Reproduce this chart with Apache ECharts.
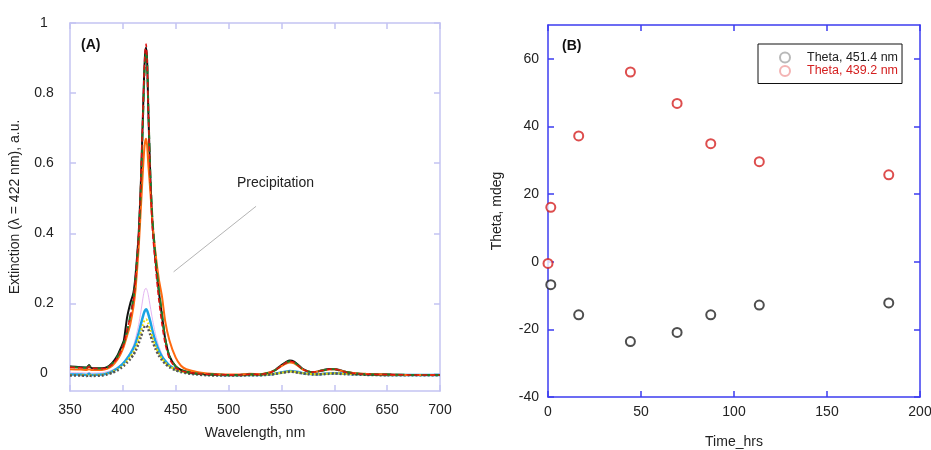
<!DOCTYPE html>
<html>
<head>
<meta charset="utf-8">
<script src="https://cdn.jsdelivr.net/npm/echarts@6/dist/echarts.min.js"></script>
<style>html,body{margin:0;padding:0;background:#fff;}#chart{width:931px;height:450px;}</style>
</head>
<body>
<div id="chart"></div>
<script>
// ---------- Panel A: spectra ----------
const wavelengths = [350,360,366,368,370,380,385,390,395,398,401,404,407,410,412,415,417,419,420,421,422,423,424,426,428,431,434,437,440,444,450,455,460,470,480,490,500,510,520,530,540,545,550,555,558,562,566,570,575,580,585,590,595,600,605,610,620,630,650,670,700];
const specBlack = [.020,.018,.017,.024,.016,.015,.018,.030,.052,.072, .095,.160,.200,.230,.280,.400,.540,.740,.840,.910, .930,.890,.760,.560,.430,.320,.235,.165,.100,.050, .020,.010,.005,.000,-.002,-.003,-.004,-.004,-.002,-.003, .004,.012,.024,.034,.037,.034,.024,.013,.006,.004, .006,.010,.013,.013,.010,.005,.000,-.002,-.003,-.004, -.004];
const specRed = [.018,.016,.015,.020,.015,.014,.016,.026,.045,.062, .085,.125,.160,.210,.270,.400,.550,.750,.850,.920, .940,.890,.760,.550,.410,.300,.210,.140,.085,.042, .016,.008,.004,.000,-.002,-.003,-.004,-.004,-.002,-.003, .003,.011,.022,.032,.035,.032,.022,.012,.006,.004, .006,.009,.012,.012,.009,.004,.000,-.002,-.003,-.004, -.004];
const specGreen = [.019,.017,.016,.022,.015,.014,.017,.028,.048,.066, .088,.120,.165,.215,.270,.390,.530,.720,.820,.890, .920,.890,.770,.570,.440,.330,.240,.170,.100,.048, .020,.010,.005,.000,-.002,-.003,-.004,-.004,-.002,-.003, .004,.011,.023,.032,.035,.032,.023,.012,.006,.004, .006,.009,.012,.012,.009,.005,.000,-.002,-.003,-.004, -.004];
const specOrange = [.012,.011,.010,.012,.010,.010,.013,.022,.040,.056, .078,.108,.140,.190,.240,.360,.470,.580,.630,.660, .670,.650,.600,.520,.430,.340,.270,.220,.150,.095, .045,.022,.012,.004,.000,-.002,-.003,-.003,-.001,-.002, .004,.011,.021,.029,.031,.029,.021,.012,.006,.004, .006,.009,.011,.012,.009,.005,.001,-.001,-.003,-.004, -.004];
const specPink = [.002,.002,.001,.003,.001,.002,.005,.010,.018,.025, .033,.045,.060,.080,.100,.140,.175,.215,.232,.241, .243,.237,.225,.190,.155,.110,.078,.055,.038,.022, .010,.005,.002,-.001,-.003,-.004,-.005,-.005,-.004,-.004, -.002,.000,.004,.007,.008,.007,.005,.002,.000,-.001, .000,.001,.003,.003,.002,.000,-.002,-.003,-.004,-.004, -.004];
const specCyan = [-.003,-.003,-.004,-.001,-.004,-.003,.000,.006,.015,.022, .031,.043,.056,.072,.086,.115,.140,.163,.173,.180, .183,.179,.170,.148,.122,.090,.066,.048,.036,.023, .012,.006,.003,-.001,-.003,-.004,-.005,-.005,-.004,-.004, -.002,.000,.003,.006,.007,.006,.004,.001,-.001,-.002, -.002,-.001,.000,.001,.000,-.001,-.002,-.003,-.004,-.004, -.004];
const specYellow = [-.004,-.004,-.005,-.003,-.005,-.004,-.001,.004,.012,.018, .026,.036,.047,.061,.073,.098,.119,.139,.148,.153, .155,.151,.143,.124,.103,.077,.057,.042,.032,.021, .011,.006,.003,-.001,-.003,-.004,-.005,-.005,-.004,-.004, -.002,.000,.002,.005,.006,.005,.003,.001,-.001,-.002, -.002,-.001,.000,.001,.000,-.001,-.002,-.003,-.004,-.004, -.004];
const specGray = [-.006,-.006,-.007,-.005,-.007,-.006,-.003,.002,.009,.015, .022,.031,.041,.053,.064,.086,.104,.122,.131,.135, .137,.134,.127,.110,.092,.069,.051,.038,.028,.018, .009,.004,.001,-.003,-.005,-.006,-.006,-.006,-.005,-.005, -.003,-.001,.002,.004,.005,.004,.002,.000,-.002,-.003, -.003,-.002,-.001,.000,-.001,-.002,-.003,-.004,-.005,-.005, -.005];
const yTicksA = [0, 0.2, 0.4, 0.6, 0.8, 1];
const precipLine = [[526, 0.477], [448, 0.29]];

// ---------- Panel B: theta vs time ----------
const time451 = [1.5, 16.5, 44.3, 69.4, 87.5, 113.6, 183.2];
const theta451 = [-6.8, -15.7, -23.6, -20.9, -15.7, -12.8, -12.2];
const time439 = [0, 1.5, 16.5, 44.3, 69.4, 87.5, 113.6, 183.2];
const theta439 = [-0.5, 16.1, 37.2, 56.1, 46.8, 34.9, 29.6, 25.7];
const yTicksB = [-40, -20, 0, 20, 40, 60];

const FONT = "'Liberation Sans', Arial, sans-serif";
const frameA = '#c4c4f2';
const frameB = '#3c3cf0';

function pairs(xs, ys) { return xs.map((x, i) => [x, ys[i]]); }

function xAx(grid, pos, min, max, interval, color, lw, showLabel, name, nameGap, margin) {
  return {
    type: 'value', gridIndex: grid, position: pos, min: min, max: max, interval: interval,
    axisLine: { show: true, onZero: false, lineStyle: { color: color, width: lw } },
    axisTick: { show: true, inside: true, length: 6, lineStyle: { color: color, width: lw } },
    axisLabel: { show: showLabel, color: '#222', fontSize: 14, fontFamily: FONT, margin: margin },
    splitLine: { show: false },
    name: name, nameLocation: 'middle', nameGap: nameGap,
    nameTextStyle: { color: '#222', fontSize: 14, fontFamily: FONT }
  };
}
function yAx(grid, pos, min, max, ticks, color, lw, showLabel, name, nameGap, margin, align) {
  return {
    type: 'value', gridIndex: grid, position: pos, min: min, max: max,
    axisLine: { show: true, onZero: false, lineStyle: { color: color, width: lw } },
    axisTick: { show: true, inside: true, length: 6, customValues: ticks, lineStyle: { color: color, width: lw } },
    axisLabel: { show: showLabel, customValues: ticks, color: '#222', fontSize: 14, fontFamily: FONT, margin: margin, align: align, formatter: v => String(v) },
    splitLine: { show: false },
    name: name, nameLocation: 'middle', nameGap: nameGap, nameRotate: 90,
    nameTextStyle: { color: '#222', fontSize: 14, fontFamily: FONT }
  };
}

function spec(name, ys, color, width, type) {
  return {
    name: name, type: 'line', xAxisIndex: 0, yAxisIndex: 0,
    data: pairs(wavelengths, ys), showSymbol: false, smooth: 0.2, silent: true,
    lineStyle: { color: color, width: width, type: type || 'solid' }, z: 3
  };
}

const chart = echarts.init(document.getElementById('chart'), null, { renderer: 'canvas' });
const series = [
  spec('pink', specPink, '#e4b4f2', 1),
  spec('cyan', specCyan, '#1aa3e4', 2.5),
  spec('yellow', specYellow, '#eee000', 2, [2, 2]),
  spec('gray', specGray, '#555555', 2.5, [2, 2]),
  spec('black', specBlack, '#111111', 2),
  spec('orange', specOrange, '#ff6a10', 2),
  spec('green', specGreen, '#1f7a2a', 2, [9, 4]),
  spec('red', specRed, '#e01010', 1.5, [5, 3]),
  {
    name: 'precip', type: 'line', xAxisIndex: 0, yAxisIndex: 0, data: [], silent: true,
    markLine: {
      symbol: ['none', 'none'], silent: true, label: { show: false },
      lineStyle: { color: '#b4b4b4', width: 1, type: 'solid' },
      data: [[{ coord: precipLine[0] }, { coord: precipLine[1] }]]
    }
  },
  {
    name: 'Theta, 451.4 nm', type: 'scatter', xAxisIndex: 2, yAxisIndex: 2,
    data: pairs(time451, theta451), symbol: 'emptyCircle', symbolSize: 9, clip: false,
    itemStyle: { color: '#222', borderColor: '#222', borderWidth: 1.3 }
  },
  {
    name: 'Theta, 439.2 nm', type: 'scatter', xAxisIndex: 2, yAxisIndex: 2,
    data: pairs(time439, theta439), symbol: 'emptyCircle', symbolSize: 9, clip: false,
    itemStyle: { color: '#d42020', borderColor: '#d42020', borderWidth: 1.3 }
  }
];

chart.setOption({
  animation: false,
  backgroundColor: '#fff',
  textStyle: { fontFamily: FONT },
  grid: [
    { left: 70, right: 491, top: 23, bottom: 59, outerBoundsMode: 'none', containLabel: false },
    { left: 548, right: 11, top: 25, bottom: 53, outerBoundsMode: 'none', containLabel: false }
  ],
  xAxis: [
    xAx(0, 'bottom', 350, 700, 50, frameA, 1.5, true, 'Wavelength, nm', 35, 12),
    xAx(0, 'top', 350, 700, 50, frameA, 1.5, false, '', 0, 8),
    xAx(1, 'bottom', 0, 200, 50, frameB, 1.5, true, 'Time_hrs', 38, 8),
    xAx(1, 'top', 0, 200, 50, frameB, 1.5, false, '', 0, 8)
  ],
  yAxis: [
    yAx(0, 'left', -0.05, 1, yTicksA, frameA, 1.5, true, 'Extinction (\u03bb = 422 nm), a.u.', 48, 26, 'center'),
    yAx(0, 'right', -0.05, 1, yTicksA, frameA, 1.5, false, '', 0, 8),
    yAx(1, 'left', -40, 70, yTicksB, frameB, 1.5, true, 'Theta, mdeg', 44, 9),
    yAx(1, 'right', -40, 70, yTicksB, frameB, 1.5, false, '', 0, 8)
  ],
  legend: {
    left: 758, top: 44, orient: 'vertical',
    padding: [7, 4, 6, 21], itemGap: 0.5, itemWidth: 10, itemHeight: 10,
    borderColor: '#111', borderWidth: 1, backgroundColor: '#fff',
    selectedMode: false,
    textStyle: { fontSize: 12.5, fontFamily: FONT, lineHeight: 13, padding: [0, 0, 0, 12] },
    data: [
      { name: 'Theta, 451.4 nm', icon: 'emptyCircle', textStyle: { color: '#222' }, itemStyle: { color: '#a8a8a8', borderColor: '#a8a8a8', borderWidth: 1 } },
      { name: 'Theta, 439.2 nm', icon: 'emptyCircle', textStyle: { color: '#d42020' }, itemStyle: { color: '#f0a0a0', borderColor: '#f0a0a0', borderWidth: 1 } }
    ]
  },
  graphic: [
    { type: 'text', left: 81, top: 38, style: { text: '(A)', font: "bold 14px 'Liberation Sans', Arial", fill: '#111' } },
    { type: 'text', left: 562, top: 39, style: { text: '(B)', font: "bold 14px 'Liberation Sans', Arial", fill: '#111' } },
    { type: 'text', left: 237, top: 176, style: { text: 'Precipitation', font: "14px 'Liberation Sans', Arial", fill: '#222' } }
  ],
  series: series
});
</script>
</body>
</html>
